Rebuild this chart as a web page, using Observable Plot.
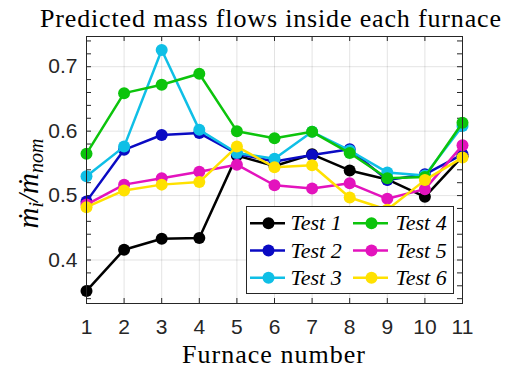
<!DOCTYPE html>
<html>
<head>
<meta charset="utf-8">
<script src="https://cdn.jsdelivr.net/npm/d3@7"></script>
<script src="https://cdn.jsdelivr.net/npm/@observablehq/plot@0.6"></script>
<style>
  html, body { margin: 0; padding: 0; background: #fff; }
  #chart { width: 511px; height: 369px; }
</style>
</head>
<body>
<div id="chart"></div>
<script>
// Furnace index along the x axis
const furnace = [1, 2, 3, 4, 5, 6, 7, 8, 9, 10, 11];

// Normalised mass flow per furnace for each test
const test1 = [0.352, 0.416, 0.433, 0.434, 0.562, 0.546, 0.564, 0.539, 0.525, 0.498, 0.561];
const test2 = [0.491, 0.571, 0.594, 0.597, 0.565, 0.553, 0.563, 0.572, 0.524, 0.533, 0.564];
const test3 = [0.530, 0.576, 0.726, 0.602, 0.566, 0.557, 0.599, 0.570, 0.536, 0.531, 0.608];
const test4 = [0.565, 0.659, 0.672, 0.689, 0.600, 0.589, 0.599, 0.566, 0.527, 0.529, 0.613];
const test5 = [0.486, 0.517, 0.527, 0.537, 0.548, 0.516, 0.511, 0.519, 0.495, 0.510, 0.578];
const test6 = [0.482, 0.508, 0.517, 0.521, 0.576, 0.544, 0.547, 0.497, 0.478, 0.524, 0.559];

const seriesNames = ["Test 1", "Test 2", "Test 3", "Test 4", "Test 5", "Test 6"];
const seriesValues = [test1, test2, test3, test4, test5, test6];
const seriesColors = ["#000000", "#0a0ac3", "#0fbfe6", "#0cc40c", "#e313bd", "#ffe100"];

// Axis ticks
const yTicks = [0.4, 0.5, 0.6, 0.7];
const yMinorTicks = [0.34, 0.36, 0.38, 0.40, 0.42, 0.44, 0.46, 0.48, 0.50, 0.52, 0.54,
                     0.56, 0.58, 0.60, 0.62, 0.64, 0.66, 0.68, 0.70, 0.72, 0.74];

const titleText = "Predicted mass flows inside each furnace";
const xLabelText = "Furnace number";
const yLabelText = "ṁi/ṁnom";

// Layout
const W = 511, H = 369;
const M = {top: 36, right: 49, bottom: 66, left: 86};
const innerW = W - M.left - M.right;
const innerH = H - M.top - M.bottom;
const tickLen = 5;
const axisColor = "#262626";
const serif = "Liberation Serif";
const sans = "Liberation Sans";

// Long-format rows for the line and dot marks
const rows = seriesNames.map((name, s) =>
  furnace.map((f, i) => ({series: name, furnace: f, value: seriesValues[s][i]}))
);

const marks = [];

// Grid
marks.push(Plot.gridX(furnace, {stroke: "#000", strokeOpacity: 0.11, strokeWidth: 1}));
marks.push(Plot.gridY(yTicks, {stroke: "#000", strokeOpacity: 0.11, strokeWidth: 1}));

// Inward tick marks on all four sides
marks.push(Plot.tickX(furnace, {x: d => d, insetTop: innerH - tickLen, stroke: axisColor}));
marks.push(Plot.tickX(furnace, {x: d => d, insetBottom: innerH - tickLen, stroke: axisColor}));
marks.push(Plot.tickY(yMinorTicks, {y: d => d, insetRight: innerW - tickLen, stroke: axisColor}));
marks.push(Plot.tickY(yMinorTicks, {y: d => d, insetLeft: innerW - tickLen, stroke: axisColor}));

// Axis labels
marks.push(Plot.axisX(furnace, {tickSize: 0, tickPadding: 16, fontSize: 21, fontFamily: sans, fill: axisColor, label: null}));
marks.push(Plot.axisY(yTicks, {tickSize: 0, tickPadding: 9, fontSize: 21, fontFamily: sans, fill: axisColor,
                               tickFormat: d => d.toFixed(1), label: null}));

// Series: line + markers, drawn in order so later tests sit on top
rows.forEach((data, s) => {
  marks.push(Plot.line(data, {x: "furnace", y: "value", stroke: seriesColors[s], strokeWidth: 2.5}));
  marks.push(Plot.dot(data, {x: "furnace", y: "value", fill: seriesColors[s], r: 6, stroke: "none"}));
});

// Plot box
marks.push(Plot.frame({stroke: axisColor, strokeWidth: 1}));

// Legend box
marks.push(Plot.frame({fill: "white", stroke: axisColor, strokeWidth: 1,
                       insetLeft: 160, insetRight: 9, insetTop: 170, insetBottom: 10}));

// Legend entries, two columns of three
const legendCols = [{marker: 182, lineL: 164, lineR: 177, text: 204},
                    {marker: 285, lineL: 267, lineR: 74, text: 309}];
const legendRows = [186.7, 214, 241.3];
const frameMid = innerH / 2;
seriesNames.forEach((name, s) => {
  const c = legendCols[Math.floor(s / 3)];
  const r = legendRows[s % 3];
  marks.push(Plot.ruleY([name], {y: null, insetLeft: c.lineL, insetRight: c.lineR,
                                 dy: r - frameMid, stroke: seriesColors[s], strokeWidth: 2.5}));
  marks.push(Plot.dot([name], {x: null, y: null, frameAnchor: "top-left", dx: c.marker, dy: r,
                               r: 6, fill: seriesColors[s], stroke: "none"}));
  marks.push(Plot.text([name], {x: null, y: null, text: d => d, frameAnchor: "top-left", dx: c.text, dy: r,
                                textAnchor: "start", lineAnchor: "middle", fontSize: 22,
                                fontFamily: serif, fontStyle: "italic", fill: "#000"}));
});

// Title and axis titles
marks.push(Plot.text([titleText], {text: d => d, frameAnchor: "top", dx: -4, dy: -17.5,
                                   lineAnchor: "middle", fontSize: 26, fontFamily: serif, fill: "#000"}));
marks.push(Plot.text([xLabelText], {text: d => d, frameAnchor: "bottom", dx: -1, dy: 51,
                                    lineAnchor: "middle", fontSize: 26, fontFamily: serif, fill: "#000"}));
marks.push(Plot.text([yLabelText], {text: d => d, frameAnchor: "left", dx: -58, dy: 3.5, rotate: -90,
                                    lineAnchor: "middle", fontSize: 29, fontFamily: serif, fill: "#000"}));

const chart = Plot.plot({
  width: W,
  height: H,
  marginTop: M.top,
  marginRight: M.right,
  marginBottom: M.bottom,
  marginLeft: M.left,
  x: {domain: [1, 11]},
  y: {domain: [0.3325, 0.7469]},
  style: {background: "white", fontFamily: sans, overflow: "visible"},
  marks
});

document.getElementById("chart").appendChild(chart);

const texts = d3.select(chart).selectAll("text");

// Stretch the serif titles to the width of the original typesetting
const spread = {[titleText]: 461, [xLabelText]: 183};
texts.filter(function () { return this.textContent in spread; })
  .each(function () {
    d3.select(this).attr("textLength", spread[this.textContent]).attr("lengthAdjust", "spacing");
  });

// Typeset the y-axis title with subscripts; it reads upward from just below the 0.5 label
texts.filter(function () { return this.textContent === yLabelText; })
  .each(function () {
    const t = d3.select(this);
    t.text(null).attr("text-anchor", "start").attr("x", -55);
    const parts = [["ṁ", false], ["i", true], ["/", false], ["ṁ", false], ["nom", true]];
    parts.forEach(([str, sub]) => {
      const ts = t.append("tspan").text(str).attr("font-style", "italic");
      if (sub) ts.attr("font-size", "20px").attr("baseline-shift", "-5px");
    });
  });
</script>
</body>
</html>
